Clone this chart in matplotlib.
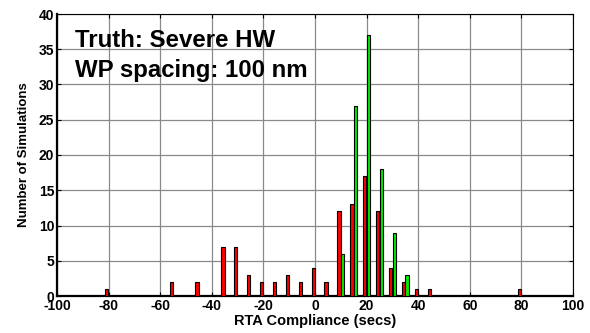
import matplotlib
matplotlib.use("Agg")
import matplotlib.pyplot as plt
import numpy as np

plt.rcParams['font.family'] = ['Liberation Sans', 'DejaVu Sans']

red_bins = [-80, -55, -45, -35, -30, -25, -20, -15, -10, -5, 0, 5, 10, 15, 20, 25, 30, 35, 40, 45, 80]
red_counts = [1, 2, 2, 7, 7, 3, 2, 2, 3, 2, 4, 2, 12, 13, 17, 12, 4, 2, 1, 1, 1]
green_bins = [10, 15, 20, 25, 30, 35]
green_counts = [6, 27, 37, 18, 9, 3]
xticks = [-100, -80, -60, -40, -20, 0, 20, 40, 60, 80, 100]
yticks = [0, 5, 10, 15, 20, 25, 30, 35, 40]

fig = plt.figure(figsize=(5.9, 3.33), dpi=100)
ax = fig.add_axes([57/590, 1-296/333, (573-57)/590, (296-14)/333])

off = 0.7
w = 1.3
ax.bar(np.array(red_bins) - off, red_counts, width=w, color='#ff0000', edgecolor='black', linewidth=0.8, zorder=3)
ax.bar(np.array(green_bins) + off, green_counts, width=w, color='#00ee00', edgecolor='black', linewidth=0.8, zorder=3)

ax.set_xlim(-100, 100)
ax.set_ylim(0, 40)
ax.set_xticks(xticks)
ax.set_yticks(yticks)
ax.set_xticklabels([str(v) for v in xticks], fontsize=10, fontweight='bold')
ax.set_yticklabels([str(v) for v in yticks], fontsize=10, fontweight='bold')
ax.tick_params(direction='in', length=3, width=0.8, top=True, right=True, pad=2)
ax.grid(True, color='#8a8a8a', linewidth=0.9, zorder=0)
ax.set_axisbelow(True)
for s in ['top', 'right']:
    ax.spines[s].set_linewidth(0.8)
for s in ['bottom', 'left']:
    ax.spines[s].set_linewidth(1.6)

ax.set_xlabel('RTA Compliance (secs)', fontsize=10.5, fontweight='bold', labelpad=1)
ax.set_ylabel('Number of Simulations', fontsize=9.5, fontweight='bold', labelpad=6)

ax.text(0.035, 1-(46.7-14)/282, 'Truth: Severe HW', transform=ax.transAxes,
        fontsize=17.3, fontweight='bold', va='baseline', ha='left')
ax.text(0.035, 1-(76.7-14)/282, 'WP spacing: 100 nm', transform=ax.transAxes,
        fontsize=17.3, fontweight='bold', va='baseline', ha='left')

fig.text(0.555, 1.0 + 3.5/333, 'RTA Compliance (secs)', fontsize=10, fontweight='bold',
         ha='center', va='baseline', color='#444444')

fig.savefig('out.png', dpi=100)
